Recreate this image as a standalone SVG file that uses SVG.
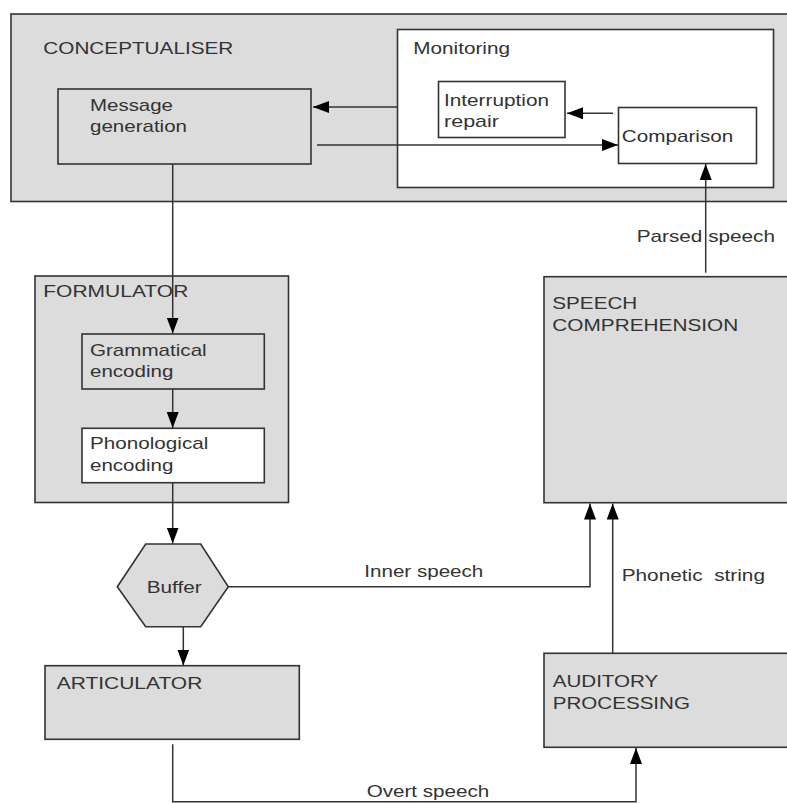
<svg xmlns="http://www.w3.org/2000/svg" width="787" height="803" viewBox="0 0 787 803">
<defs>
<marker id="ah" viewBox="0 0 16 12" refX="16" refY="6" markerWidth="16" markerHeight="12" markerUnits="userSpaceOnUse" orient="auto">
<path d="M0,0 L16,6 L0,12 Z" fill="#000"/>
</marker>
</defs>
<style>
.g{fill:#dcdcdc;stroke:#333;stroke-width:1.6}
.w{fill:#fff;stroke:#333;stroke-width:1.6}
text{font-family:"Liberation Sans",Arial,sans-serif;font-size:17px;fill:#333}
.c{fill:none;stroke:#333;stroke-width:1.5}
</style>
<rect width="787" height="803" fill="#fff"/>
<g id="conceptualiser">
<rect class="g" x="11" y="14" width="785" height="187.5"/>
<text x="43.3" y="54" textLength="190" lengthAdjust="spacingAndGlyphs">CONCEPTUALISER</text>
</g>
<g id="message-generation">
<rect class="g" x="58" y="89" width="253" height="75"/>
<text x="90" y="110.7" textLength="83" lengthAdjust="spacingAndGlyphs">Message</text>
<text x="90" y="131.5" textLength="97" lengthAdjust="spacingAndGlyphs">generation</text>
</g>
<g id="monitoring">
<rect class="w" x="397.5" y="29.5" width="376" height="158"/>
<text x="413.3" y="54" textLength="96.7" lengthAdjust="spacingAndGlyphs">Monitoring</text>
</g>
<g id="interruption-repair">
<rect class="w" x="438.5" y="81.5" width="126.5" height="56"/>
<text x="444" y="106" textLength="105" lengthAdjust="spacingAndGlyphs">Interruption</text>
<text x="444" y="126.7" textLength="55" lengthAdjust="spacingAndGlyphs">repair</text>
</g>
<g id="comparison">
<rect class="w" x="618.5" y="107.5" width="138" height="56"/>
<text x="621.7" y="141.7" textLength="111.6" lengthAdjust="spacingAndGlyphs">Comparison</text>
</g>
<g id="formulator">
<rect class="g" x="35" y="276" width="253.5" height="226.5"/>
<text x="43.3" y="296.7" textLength="145" lengthAdjust="spacingAndGlyphs">FORMULATOR</text>
</g>
<g id="grammatical-encoding">
<rect class="g" x="82" y="334" width="182.3" height="55"/>
<text x="90" y="355.7" textLength="116.7" lengthAdjust="spacingAndGlyphs">Grammatical</text>
<text x="90" y="376.7" textLength="83.3" lengthAdjust="spacingAndGlyphs">encoding</text>
</g>
<g id="phonological-encoding">
<rect class="w" x="82" y="428.3" width="182.3" height="54.4"/>
<text x="90" y="449.3" textLength="118.3" lengthAdjust="spacingAndGlyphs">Phonological</text>
<text x="90" y="470.7" textLength="83.3" lengthAdjust="spacingAndGlyphs">encoding</text>
</g>
<g id="buffer">
<polygon class="g" points="117.3,586.7 145.7,544 200.7,544 228.3,586.7 200.7,626.7 145.7,626.7"/>
<text x="146.7" y="592.7" textLength="55" lengthAdjust="spacingAndGlyphs">Buffer</text>
</g>
<g id="articulator">
<rect class="g" x="45" y="665.7" width="254.3" height="73.6"/>
<text x="56.7" y="689.3" textLength="145.6" lengthAdjust="spacingAndGlyphs">ARTICULATOR</text>
</g>
<g id="speech-comprehension">
<rect class="g" x="544" y="276.7" width="250" height="226"/>
<text x="552.3" y="309.3" textLength="85" lengthAdjust="spacingAndGlyphs">SPEECH</text>
<text x="552.3" y="330.7" textLength="186" lengthAdjust="spacingAndGlyphs">COMPREHENSION</text>
</g>
<g id="auditory-processing">
<rect class="g" x="544" y="653.3" width="250" height="94"/>
<text x="552.7" y="687.3" textLength="105.6" lengthAdjust="spacingAndGlyphs">AUDITORY</text>
<text x="552.7" y="709" textLength="137.3" lengthAdjust="spacingAndGlyphs">PROCESSING</text>
</g>
<g id="connectors">
<path class="c" d="M397.5,107 L313,107" marker-end="url(#ah)"/>
<path class="c" d="M317,145 L618,145" marker-end="url(#ah)"/>
<path class="c" d="M613,113.3 L567,113.3" marker-end="url(#ah)"/>
<path class="c" d="M172.7,164 L172.7,333.5" marker-end="url(#ah)"/>
<path class="c" d="M172.7,389 L172.7,428" marker-end="url(#ah)"/>
<path class="c" d="M172.7,482.7 L172.7,543.5" marker-end="url(#ah)"/>
<path class="c" d="M183.3,626.7 L183.3,665.5" marker-end="url(#ah)"/>
<path class="c" d="M228.3,586.7 L590,586.7 L590,503.5" marker-end="url(#ah)"/>
<path class="c" d="M612.7,653.3 L612.7,503.5" marker-end="url(#ah)"/>
<path class="c" d="M705.7,272.7 L705.7,164" marker-end="url(#ah)"/>
<path class="c" d="M172.7,744.3 L172.7,801.8 L636,801.8 L636,748" marker-end="url(#ah)"/>
<text x="364.3" y="577.3" textLength="119" lengthAdjust="spacingAndGlyphs">Inner speech</text>
<text x="621.7" y="580.7" textLength="143.3" lengthAdjust="spacingAndGlyphs" xml:space="preserve">Phonetic  string</text>
<text x="636.7" y="242.3" textLength="138.3" lengthAdjust="spacingAndGlyphs">Parsed speech</text>
<text x="366.7" y="797.3" textLength="122.6" lengthAdjust="spacingAndGlyphs">Overt speech</text>
</g>
</svg>
